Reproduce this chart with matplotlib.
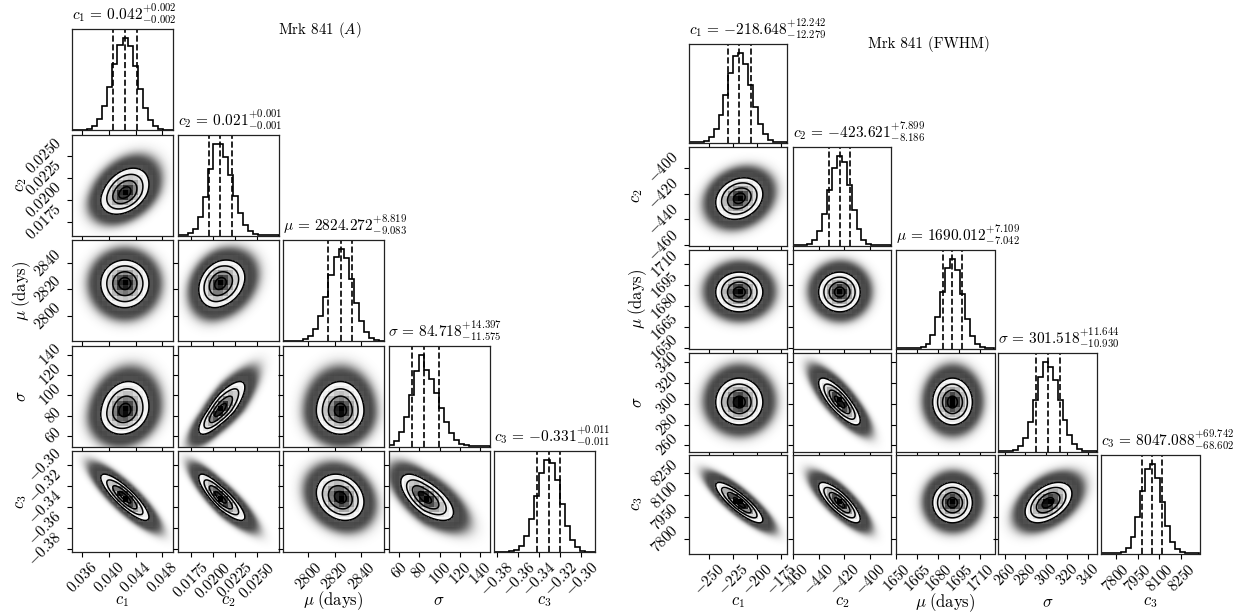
import math
import numpy as np
import matplotlib
matplotlib.use("Agg")
import matplotlib.pyplot as plt
from matplotlib.colors import LinearSegmentedColormap, ListedColormap

plt.rcParams.update({
    "font.family": "serif",
    "font.serif": ["cmr10"],
    "mathtext.fontset": "cm",
    "axes.formatter.use_mathtext": True,
})

# ---------------- Mrk 841 (A) ----------------
a_names = ["c_1", "c_2", r"\mu", r"\sigma", "c_3"]
a_labels = [r"$c_1$", r"$c_2$", r"$\mu\;(\mathrm{days})$", r"$\sigma$", r"$c_3$"]
a_median = [0.0424, 0.0208, 2824.272, 84.718, -0.331]
a_err_hi = [0.0018, 0.0014, 8.819, 14.397, 0.011]
a_err_lo = [0.0018, 0.0012, 9.083, 11.575, 0.011]
a_lo_lim = [0.0345, 0.0160, 2781.0, 49.5, -0.383]
a_hi_lim = [0.0496, 0.0274, 2857.0, 149.0, -0.287]
a_ticks = [
    ["0.036", "0.040", "0.044", "0.048"],
    ["0.0175", "0.0200", "0.0225", "0.0250"],
    ["2800", "2820", "2840"],
    ["60", "80", "100", "120", "140"],
    ["-0.38", "-0.36", "-0.34", "-0.32", "-0.30"],
]
# pairwise correlations (lower triangle, row i vs column j)
a_corr = [
    [],
    [0.35],
    [0.0, 0.25],
    [0.15, 0.80, 0.0],
    [-0.85, -0.85, -0.20, -0.65],
]

# ---------------- Mrk 841 (FWHM) ----------------
b_names = ["c_1", "c_2", r"\mu", r"\sigma", "c_3"]
b_labels = [r"$c_1$", r"$c_2$", r"$\mu\;(\mathrm{days})$", r"$\sigma$", r"$c_3$"]
b_median = [-218.648, -423.621, 1690.012, 301.518, 8047.088]
b_err_hi = [12.242, 7.899, 7.109, 11.644, 69.742]
b_err_lo = [12.279, 8.186, 7.042, 10.930, 68.602]
b_lo_lim = [-271.0, -460.2, 1649.8, 254.0, 7700.0]
b_hi_lim = [-168.5, -384.0, 1720.0, 349.0, 8374.0]
b_ticks = [
    ["-250", "-225", "-200", "-175"],
    ["-460", "-440", "-420", "-400"],
    ["1650", "1665", "1680", "1695", "1710"],
    ["260", "280", "300", "320", "340"],
    ["7800", "7950", "8100", "8250"],
]
b_corr = [
    [],
    [0.20],
    [0.0, 0.0],
    [0.0, -0.80, 0.0],
    [-0.85, -0.80, 0.0, 0.45],
]

a_heading = r"Mrk 841 ($A$)"
b_heading = "Mrk 841 (FWHM)"

W, H = 1244, 615
fig = plt.figure(figsize=(W / 100, H / 100), dpi=100)
renderer = fig.canvas.get_renderer()

_erf = np.vectorize(math.erf)


def norm_cdf(z):
    return 0.5 * (1.0 + _erf(np.asarray(z) / math.sqrt(2.0)))


def to_z(x, m, lo, hi):
    x = np.asarray(x, float)
    return np.where(x >= m, (x - m) / hi, (x - m) / lo)


def title_text(name, m, hi, lo):
    return f"${name}\\,=\\,{{{m:.3f}}}^{{+{hi:.3f}}}_{{-{lo:.3f}}}$"


def text_width(s, fs):
    t = fig.text(0, 0, s, fontsize=fs)
    w = t.get_window_extent(renderer).width
    t.remove()
    return w


# font sizes chosen so the text spans set pixel widths
TITLE_FS = 10 * 105.0 / text_width(title_text(a_names[0], a_median[0], a_err_hi[0], a_err_lo[0]), 10)
HEAD_FS = 10 * 122.0 / text_width(b_heading, 10)
TICK_FS = 11
LABEL_FS = 12

# 0.5, 1, 1.5, 2 sigma levels on the peak-normalised density
sig_levels = np.exp(-0.5 * np.array([2.0, 1.5, 1.0, 0.5]) ** 2)
density_cmap = LinearSegmentedColormap.from_list("density", ["k", (1, 1, 1, 0)])
white_cmap = ListedColormap([(1, 1, 1)])
NBINS = 20
CLOUD_K = 100.0
CLOUD_MAX = 0.85


def style_axis(ax, show_x, show_y, xt, yt):
    for sp in ax.spines.values():
        sp.set_linewidth(0.9)
        sp.set_color("#222222")
    ax.tick_params(direction="out", length=3.5, width=0.8, labelsize=TICK_FS, pad=2)
    ax.set_xticks([float(s) for s in xt])
    if show_x:
        ax.set_xticklabels([f"${s}$" for s in xt], rotation=45, ha="center", va="top")
    else:
        ax.set_xticklabels([])
    if yt is None:
        ax.set_yticks([])
    else:
        ax.set_yticks([float(s) for s in yt])
        if show_y:
            ax.set_yticklabels([f"${s}$" for s in yt], rotation=45, ha="right", va="center")
        else:
            ax.set_yticklabels([])


def corner(lefts, tops, size, names, labels, med, ehi, elo, lo_lim, hi_lim,
           ticks, corr, xlab_y, ylab_x):
    n = len(names)
    for i in range(n):
        for j in range(i + 1):
            ax = fig.add_axes([lefts[j] / W, 1 - (tops[i] + size) / H, size / W, size / H])
            bottom = i == n - 1
            if i == j:
                edges = np.linspace(lo_lim[i], hi_lim[i], NBINS + 1)
                cdf = norm_cdf(to_z(edges, med[i], elo[i], ehi[i]))
                probs = np.diff(cdf)
                centers = 0.5 * (edges[1:] + edges[:-1])
                ax.hist(centers, bins=edges, weights=probs, histtype="step",
                        color="k", lw=1.2)
                for q in (med[i] - elo[i], med[i], med[i] + ehi[i]):
                    ax.axvline(q, color="k", ls="--", lw=1.2)
                ax.set_xlim(lo_lim[i], hi_lim[i])
                ax.set_ylim(0, 1.1 * probs.max())
                style_axis(ax, bottom, False, ticks[i], None)
                ax.set_title(title_text(names[i], med[i], ehi[i], elo[i]),
                             loc="left", fontsize=TITLE_FS, pad=6.5)
            else:
                rho = corr[i][j]
                gx = np.linspace(lo_lim[j], hi_lim[j], 240)
                gy = np.linspace(lo_lim[i], hi_lim[i], 240)
                GX, GY = np.meshgrid(gx, gy)
                zx = to_z(GX, med[j], elo[j], ehi[j])
                zy = to_z(GY, med[i], elo[i], ehi[i])
                r2 = (zx ** 2 - 2 * rho * zx * zy + zy ** 2) / (1 - rho ** 2)
                Q = np.exp(-0.5 * r2)

                # sample cloud
                rgba = np.zeros(Q.shape + (4,))
                rgba[..., :3] = 0.12
                rgba[..., 3] = CLOUD_MAX * (1.0 - np.exp(-CLOUD_K * Q))
                ax.imshow(rgba, origin="lower", aspect="auto", interpolation="bilinear",
                          extent=(lo_lim[j], hi_lim[j], lo_lim[i], hi_lim[i]), zorder=0)

                # white base inside the outer contour
                ax.contourf(GX, GY, Q, [sig_levels[0], Q.max() + 1], cmap=white_cmap,
                            antialiased=False, zorder=1)

                # binned density
                ex = np.linspace(lo_lim[j], hi_lim[j], NBINS + 1)
                ey = np.linspace(lo_lim[i], hi_lim[i], NBINS + 1)
                cx = 0.5 * (ex[1:] + ex[:-1])
                cy = 0.5 * (ey[1:] + ey[:-1])
                CX, CY = np.meshgrid(cx, cy)
                bzx = to_z(CX, med[j], elo[j], ehi[j])
                bzy = to_z(CY, med[i], elo[i], ehi[i])
                br2 = (bzx ** 2 - 2 * rho * bzx * bzy + bzy ** 2) / (1 - rho ** 2)
                Hb = np.exp(-0.5 * br2)
                ax.pcolormesh(ex, ey, Hb.max() - Hb, cmap=density_cmap,
                              vmin=0, vmax=Hb.max() - Hb.min(), zorder=2)

                ax.contour(GX, GY, Q, sig_levels, colors="k", linewidths=1.1, zorder=3)
                ax.set_xlim(lo_lim[j], hi_lim[j])
                ax.set_ylim(lo_lim[i], hi_lim[i])
                style_axis(ax, bottom, j == 0, ticks[j], ticks[i])
            if bottom:
                ax.set_xlabel(labels[j], fontsize=LABEL_FS)
                ax.xaxis.set_label_coords(0.5, xlab_y)
                ax.xaxis.label.set_va("center")
            if j == 0 and i > 0:
                ax.set_ylabel(labels[i], fontsize=LABEL_FS)
                ax.yaxis.set_label_coords(ylab_x, 0.5)
                ax.yaxis.label.set_va("center")
                ax.yaxis.label.set_ha("center")


corner([72, 177.5, 283, 388.5, 494], [29, 134.5, 240, 345.5, 451], 101,
       a_names, a_labels, a_median, a_err_hi, a_err_lo, a_lo_lim, a_hi_lim,
       a_ticks, a_corr, -0.485, -0.5)
corner([689, 792.5, 896, 998.5, 1101], [44, 147, 250, 353, 455], 98.5,
       b_names, b_labels, b_median, b_err_hi, b_err_lo, b_lo_lim, b_hi_lim,
       b_ticks, b_corr, -0.5, -0.52)

fig.text(319.5 / W, 1 - 30 / H, a_heading, ha="center", va="center", fontsize=HEAD_FS)
fig.text(929 / W, 1 - 44 / H, b_heading, ha="center", va="center", fontsize=HEAD_FS)

fig.savefig("out.png", dpi=100)
